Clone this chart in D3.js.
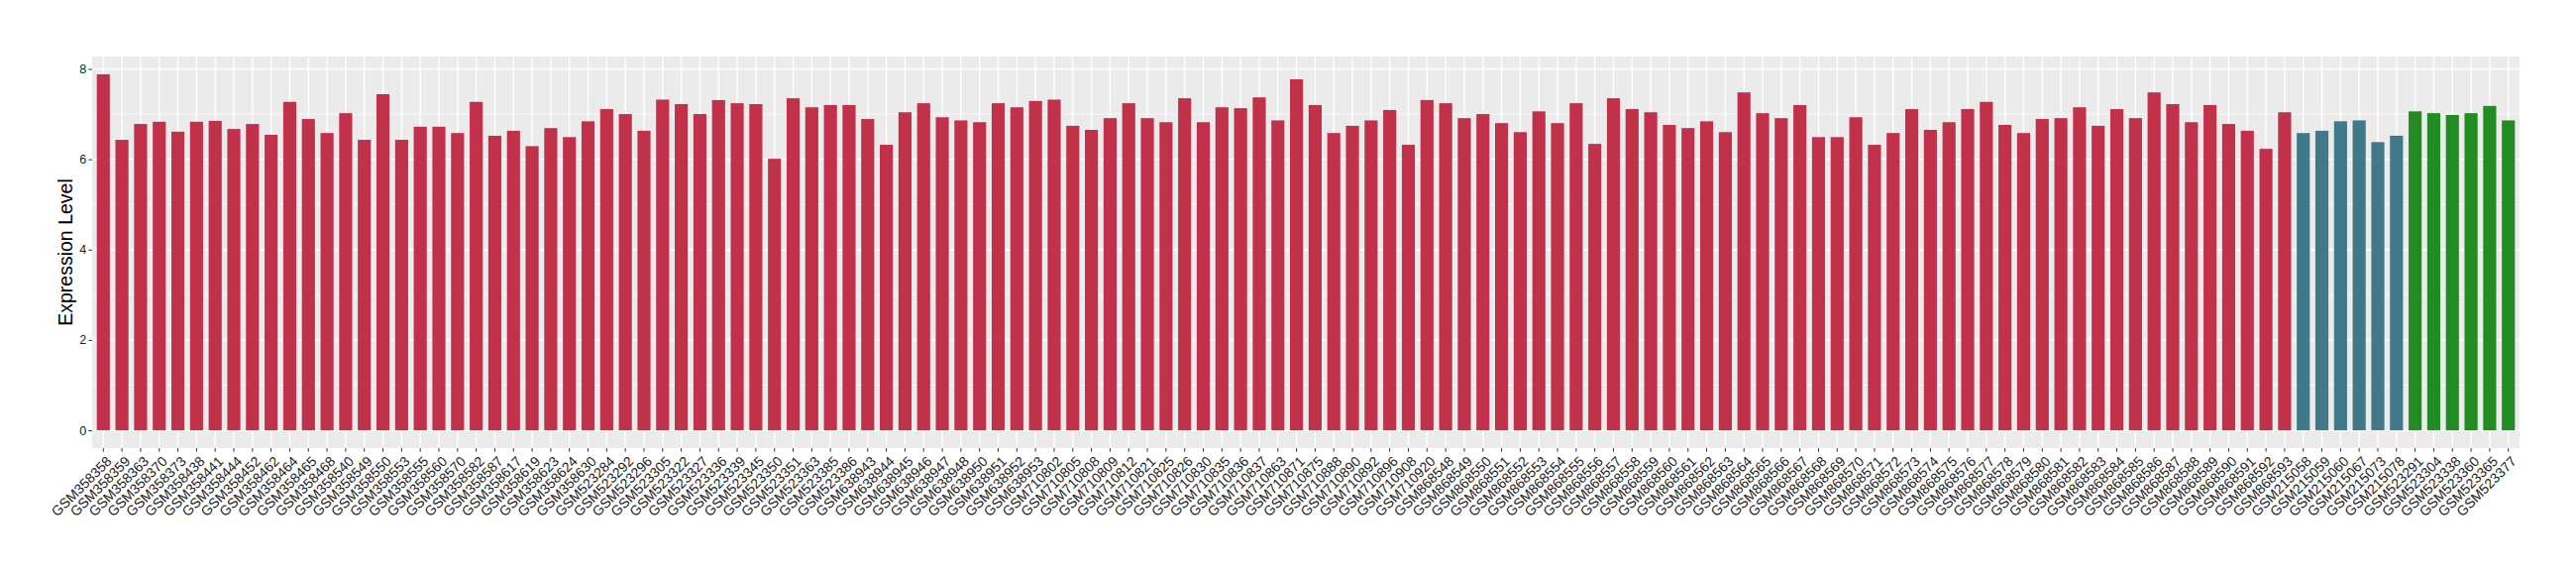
<!DOCTYPE html>
<html>
<head>
<meta charset="utf-8">
<script src="https://cdn.jsdelivr.net/npm/d3@7"></script>
<style>
  body { margin: 0; background: #fff; }
  text { font-family: "Liberation Sans", Arial, sans-serif; }
</style>
</head>
<body>
<div id="chart-area"></div>
<script>
// Samples per group, in plot order
const redSamples = [
  "GSM358358","GSM358359","GSM358363","GSM358370","GSM358373","GSM358438","GSM358441","GSM358444",
  "GSM358452","GSM358462","GSM358464","GSM358465","GSM358468","GSM358540","GSM358549","GSM358550",
  "GSM358553","GSM358555","GSM358560","GSM358570","GSM358582","GSM358587","GSM358617","GSM358619",
  "GSM358623","GSM358624","GSM358630","GSM523284","GSM523292","GSM523296","GSM523305","GSM523322",
  "GSM523327","GSM523336","GSM523339","GSM523345","GSM523350","GSM523351","GSM523363","GSM523385",
  "GSM523386","GSM638943","GSM638944","GSM638945","GSM638946","GSM638947","GSM638948","GSM638950",
  "GSM638951","GSM638952","GSM638953","GSM710802","GSM710805","GSM710808","GSM710809","GSM710812",
  "GSM710821","GSM710825","GSM710826","GSM710830","GSM710835","GSM710836","GSM710837","GSM710863",
  "GSM710871","GSM710875","GSM710888","GSM710890","GSM710892","GSM710896","GSM710908","GSM710920",
  "GSM868548","GSM868549","GSM868550","GSM868551","GSM868552","GSM868553","GSM868554","GSM868555",
  "GSM868556","GSM868557","GSM868558","GSM868559","GSM868560","GSM868561","GSM868562","GSM868563",
  "GSM868564","GSM868565","GSM868566","GSM868567","GSM868568","GSM868569","GSM868570","GSM868571",
  "GSM868572","GSM868573","GSM868574","GSM868575","GSM868576","GSM868577","GSM868578","GSM868579",
  "GSM868580","GSM868581","GSM868582","GSM868583","GSM868584","GSM868585","GSM868586","GSM868587",
  "GSM868588","GSM868589","GSM868590","GSM868591","GSM868592","GSM868593"
]
const redValues = [
  7.88,6.43,6.78,6.83,6.61,6.83,6.85,6.67,
  6.78,6.54,7.27,6.89,6.58,7.02,6.43,7.44,
  6.43,6.72,6.72,6.58,7.27,6.52,6.63,6.29,
  6.69,6.49,6.84,7.11,7.00,6.63,7.32,7.22,
  7.00,7.31,7.24,7.22,6.01,7.35,7.15,7.20,
  7.20,6.89,6.32,7.04,7.24,6.93,6.86,6.82,
  7.24,7.15,7.29,7.32,6.74,6.65,6.91,7.24,
  6.91,6.82,7.35,6.82,7.15,7.13,7.37,6.86,
  7.77,7.20,6.58,6.74,6.86,7.09,6.32,7.31,
  7.24,6.91,7.00,6.80,6.60,7.06,6.80,7.24,
  6.34,7.35,7.11,7.04,6.76,6.69,6.84,6.60,
  7.48,7.02,6.91,7.20,6.49,6.49,6.93,6.32,
  6.58,7.11,6.65,6.82,7.11,7.27,6.76,6.58,
  6.89,6.91,7.15,6.74,7.11,6.91,7.48,7.22,
  6.82,7.20,6.78,6.63,6.23,7.04
]
const blueSamples = ["GSM215058","GSM215059","GSM215060","GSM215067","GSM215073","GSM215078"]
const blueValues = [6.58,6.63,6.84,6.86,6.38,6.52]
const greenSamples = ["GSM523291","GSM523304","GSM523338","GSM523360","GSM523365","GSM523377"]
const greenValues = [7.06,7.02,6.98,7.02,7.18,6.86]

const yTicks = [0, 2, 4, 6, 8]
const yMinor = [1, 3, 5, 7]
const COLORS = { red: "#C2314A", blue: "#41798B", green: "#228B22" }

const data = [
  ...redSamples.map((s, i) => ({ sample: s, value: redValues[i], group: "red" })),
  ...blueSamples.map((s, i) => ({ sample: s, value: blueValues[i], group: "blue" })),
  ...greenSamples.map((s, i) => ({ sample: s, value: greenValues[i], group: "green" }))
]

const MARGIN = { LEFT: 93, RIGHT: 57, TOP: 57, BOTTOM: 128 }
const W = 2600, H = 580
const WIDTH = W - MARGIN.LEFT - MARGIN.RIGHT
const HEIGHT = H - MARGIN.TOP - MARGIN.BOTTOM

const svg = d3.select("#chart-area").append("svg")
    .attr("width", W)
    .attr("height", H)

const g = svg.append("g")
    .attr("transform", `translate(${MARGIN.LEFT}, ${MARGIN.TOP})`)

// Scales (ggplot-like expansion)
const x = d3.scaleBand()
    .domain(data.map(d => d.sample))
    .range([0, WIDTH])
    .paddingInner(0.3)
    .paddingOuter(0.25)

const maxV = d3.max(data, d => d.value)
const y = d3.scaleLinear()
    .domain([-0.05 * maxV, 1.05 * maxV])
    .range([HEIGHT, 0])

// Panel background
g.append("rect")
    .attr("width", WIDTH)
    .attr("height", HEIGHT)
    .attr("fill", "#EBEBEB")

// Grid
g.selectAll(".minor").data(yMinor).enter().append("line")
    .attr("x1", 0).attr("x2", WIDTH)
    .attr("y1", d => y(d)).attr("y2", d => y(d))
    .attr("stroke", "#fff").attr("stroke-width", 0.7)

g.selectAll(".major").data(yTicks).enter().append("line")
    .attr("x1", 0).attr("x2", WIDTH)
    .attr("y1", d => y(d)).attr("y2", d => y(d))
    .attr("stroke", "#fff").attr("stroke-width", 1.4)

g.selectAll(".vgrid").data(data).enter().append("line")
    .attr("x1", d => x(d.sample) + x.bandwidth() / 2)
    .attr("x2", d => x(d.sample) + x.bandwidth() / 2)
    .attr("y1", 0).attr("y2", HEIGHT)
    .attr("stroke", "#fff").attr("stroke-width", 1.4)

// Bars
g.selectAll(".bar").data(data).enter().append("rect")
    .attr("x", d => x(d.sample))
    .attr("width", x.bandwidth())
    .attr("y", d => y(d.value))
    .attr("height", d => y(0) - y(d.value))
    .attr("fill", d => COLORS[d.group])

// Y Axis
const yAxisCall = d3.axisLeft(y).tickValues(yTicks).tickSize(3.7).tickPadding(2)
const yAxis = g.append("g").call(yAxisCall)
yAxis.select(".domain").remove()
yAxis.selectAll("line").attr("stroke", "#333")
yAxis.selectAll("text").attr("font-size", "12.5px").attr("fill", "#222")
    .attr("font-family", "Liberation Sans, Arial, sans-serif")

// X Axis
const xAxisCall = d3.axisBottom(x).tickSize(3.7).tickPadding(2)
const xAxis = g.append("g")
    .attr("transform", `translate(0, ${HEIGHT})`)
    .call(xAxisCall)
xAxis.select(".domain").remove()
xAxis.selectAll("line").attr("stroke", "#333")
xAxis.selectAll("text")
    .attr("font-size", "14px")
    .attr("fill", "#222")
    .attr("font-family", "Liberation Sans, Arial, sans-serif")
    .attr("text-anchor", "end")
    .attr("y", 0).attr("dy", "0.72em")
    .attr("transform", "translate(2, 7) rotate(-45)")

// Y Label
g.append("text")
    .attr("transform", "rotate(-90)")
    .attr("x", -HEIGHT / 2)
    .attr("y", -20)
    .attr("font-size", "19.5px")
    .attr("text-anchor", "middle")
    .attr("fill", "#000")
    .text("Expression Level")
</script>
</body>
</html>
